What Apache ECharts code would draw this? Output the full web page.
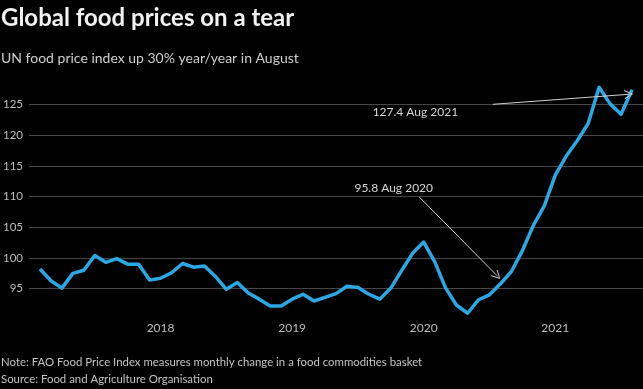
<!DOCTYPE html>
<html>
<head>
<meta charset="utf-8">
<script src="https://cdn.jsdelivr.net/npm/echarts@6/dist/echarts.min.js"></script>
<style>
html,body{margin:0;padding:0;background:#000;}
#chart{width:643px;height:389px;}
</style>
</head>
<body>
<div id="chart"></div>
<script>
// Months (YYYY-MM) and FAO Food Price Index values
const months = [
  '2017-02','2017-03','2017-04','2017-05','2017-06','2017-07','2017-08','2017-09','2017-10','2017-11','2017-12',
  '2018-01','2018-02','2018-03','2018-04','2018-05','2018-06','2018-07','2018-08','2018-09','2018-10','2018-11','2018-12',
  '2019-01','2019-02','2019-03','2019-04','2019-05','2019-06','2019-07','2019-08','2019-09','2019-10','2019-11','2019-12',
  '2020-01','2020-02','2020-03','2020-04','2020-05','2020-06','2020-07','2020-08','2020-09','2020-10','2020-11','2020-12',
  '2021-01','2021-02','2021-03','2021-04','2021-05','2021-06','2021-07','2021-08'
];
const values = [
  98.2, 96.3, 95.1, 97.5, 98.0, 100.4, 99.3, 99.9, 99.0, 99.0, 96.4,
  96.7, 97.6, 99.1, 98.5, 98.7, 97.0, 94.9, 96.0, 94.3, 93.3, 92.2, 92.2,
  93.3, 94.1, 93.0, 93.6, 94.2, 95.4, 95.2, 94.1, 93.3, 95.1, 98.0, 100.8,
  102.6, 99.4, 95.1, 92.3, 91.0, 93.2, 94.0, 95.8, 97.8, 101.2, 105.3, 108.5,
  113.5, 116.6, 119.1, 121.9, 127.8, 125.1, 123.4, 127.4
];
const yearTicks = ['2018','2019','2020','2021'];
const yTicks = [95, 100, 105, 110, 115, 120, 125];

const baseYear = 2017;
function monthIndex(s){ const [y,m] = s.split('-').map(Number); return (y-baseYear)*12 + (m-1); }
const seriesData = months.map((m,i)=>[monthIndex(m), values[i]]);

const FONT = 'Lato, "Open Sans", sans-serif';
const chart = echarts.init(document.getElementById('chart'), null, {renderer:'canvas'});

const gridColors = [];
for (let v = 90; v <= 130; v += 5) gridColors.push(yTicks.includes(v) ? '#474747' : 'rgba(0,0,0,0)');

const arrowSym = 'path://M0,10 L5,0 L10,10 L9,10.6 L5,2.4 L1,10.6 Z';

chart.setOption({
  backgroundColor: '#000',
  animation: false,
  textStyle: {fontFamily: FONT},
  graphic: [
    {type:'text', left: 1, top: 6, style:{text:'Global food prices on a tear', font:'bold 24px ' + FONT, fill:'#f2f2f2'}},
    {type:'text', left: 1, top: 51, style:{text:'UN food price index up 30% year/year in August', font:'14px ' + FONT, fill:'#cfcfcf'}},
    {type:'text', left: 1, top: 357, style:{text:'Note: FAO Food Price Index measures monthly change in a food commodities basket', font:'11.4px ' + FONT, fill:'#c4c4c4'}},
    {type:'text', left: 1, top: 374, style:{text:'Source: Food and Agriculture Organisation', font:'11.4px ' + FONT, fill:'#c4c4c4'}}
  ],
  grid: {left: 25, right: 0, top: 73.8, bottom: 389 - 319.4, containLabel: false},
  xAxis: {
    type: 'value', min: 0, max: 56, interval: 12,
    axisLine: {show:false}, axisTick: {show:false}, splitLine: {show:false},
    axisLabel: {
      color:'#bdbdbd', fontSize: 12, margin: 3, fontFamily: FONT,
      showMinLabel: true, showMaxLabel: false,
      formatter: v => { const y = String(baseYear + v/12); return yearTicks.includes(y) ? y : ''; }
    }
  },
  yAxis: {
    type: 'value', min: 90, max: 130, interval: 5,
    axisLine: {show:false}, axisTick: {show:false},
    splitLine: {show:true, lineStyle:{color: gridColors, width: 1}},
    axisLabel: {
      color:'#bdbdbd', fontSize: 11.5, margin: 6, fontFamily: FONT,
      formatter: v => yTicks.includes(v) ? String(v) : ''
    }
  },
  series: [{
    type: 'line',
    data: seriesData,
    showSymbol: false,
    lineStyle: {color:'#29a8e6', width: 3.5, join:'round'},
    z: 3,
    markLine: {
      silent: true,
      symbol: ['none', arrowSym],
      symbolSize: [9, 9],
      lineStyle: {color:'#d0d0d0', width: 1, type:'solid'},
      label: {show:false},
      data: [
        [{coord:[42.3, 125.03]}, {coord:[54.7, 126.66]}],
        [{coord:[35.6, 109.93]}, {coord:[42.7, 97.1]}]
      ]
    },
    markPoint: {
      silent: true,
      symbol: 'rect', symbolSize: 0,
      label: {show:true, position:'right', distance: 0, color:'#d6d6d6', fontSize: 12, fontFamily: FONT},
      data: [
        {coord:[31.34, 123.78], label:{formatter:'127.4 Aug 2021'}},
        {coord:[29.68, 111.4], label:{formatter:'95.8 Aug 2020'}}
      ]
    }
  }]
});
</script>
</body>
</html>
